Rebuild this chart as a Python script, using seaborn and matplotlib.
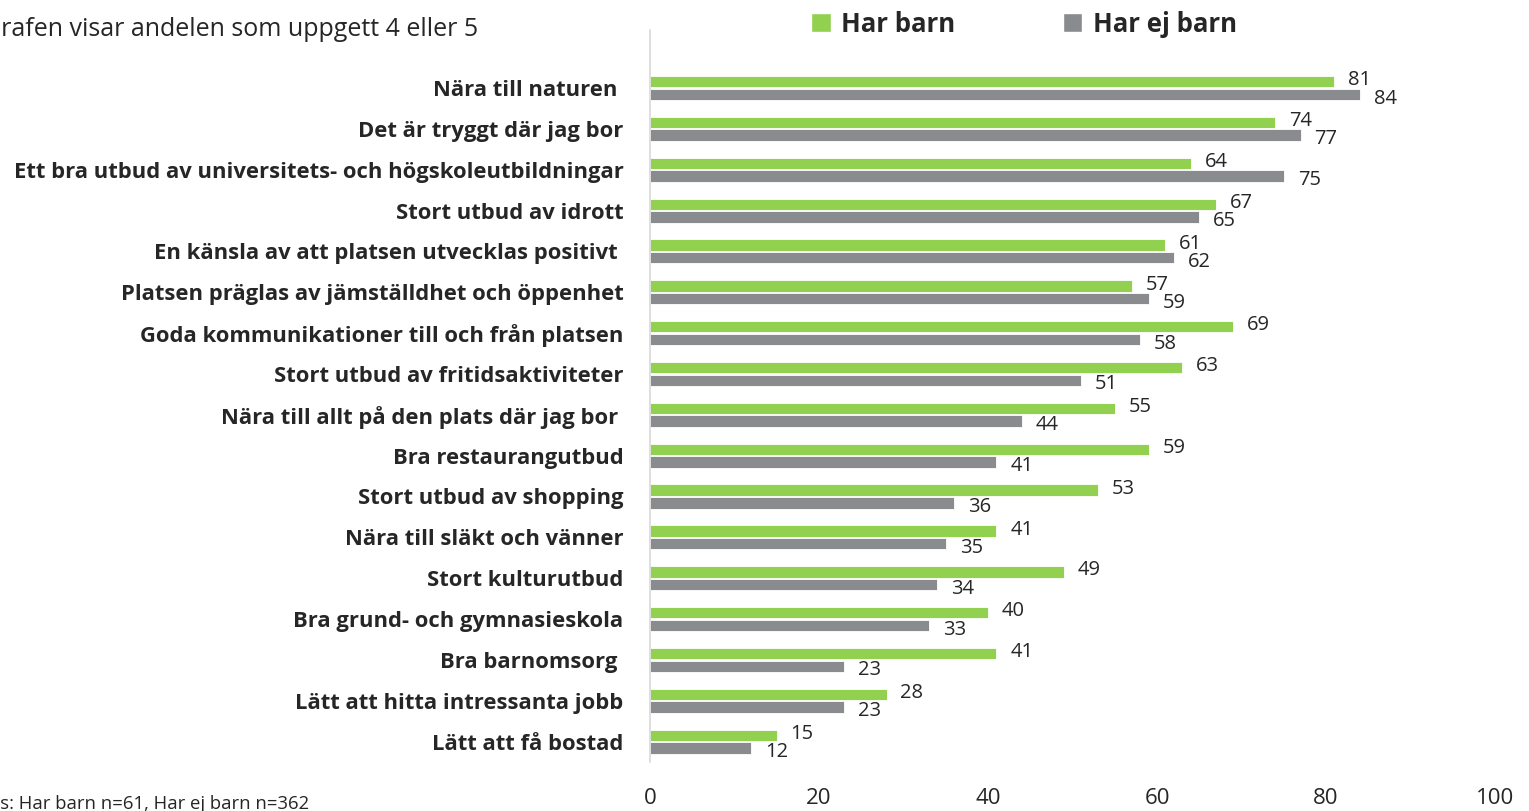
import matplotlib
matplotlib.use("Agg")
import matplotlib.pyplot as plt
import seaborn as sns
import pandas as pd
from matplotlib.patches import Patch

# Data
kategorier = [
    "Nära till naturen ",
    "Det är tryggt där jag bor",
    "Ett bra utbud av universitets- och högskoleutbildningar",
    "Stort utbud av idrott",
    "En känsla av att platsen utvecklas positivt ",
    "Platsen präglas av jämställdhet och öppenhet",
    "Goda kommunikationer till och från platsen",
    "Stort utbud av fritidsaktiviteter",
    "Nära till allt på den plats där jag bor ",
    "Bra restaurangutbud",
    "Stort utbud av shopping",
    "Nära till släkt och vänner",
    "Stort kulturutbud",
    "Bra grund- och gymnasieskola",
    "Bra barnomsorg ",
    "Lätt att hitta intressanta jobb",
    "Lätt att få bostad",
]
har_barn = [81, 74, 64, 67, 61, 57, 69, 63, 55, 59, 53, 41, 49, 40, 41, 28, 15]
har_ej_barn = [84, 77, 75, 65, 62, 59, 58, 51, 44, 41, 36, 35, 34, 33, 23, 23, 12]
grupper = ["Har barn", "Har ej barn"]
x_ticks = [0, 20, 40, 60, 80, 100]

farger = {"Har barn": "#92D050", "Har ej barn": "#898B8E"}
textfarg = "#262626"

dados = pd.DataFrame({
    "kategori": kategorier * 2,
    "grupp": [grupper[0]] * len(kategorier) + [grupper[1]] * len(kategorier),
    "andel": har_barn + har_ej_barn,
})

sns.set_style("white")
plt.rcParams["font.family"] = ["Open Sans", "DejaVu Sans"]

fig = plt.figure(figsize=(15.29, 8.11), dpi=100)
W, H = 1529, 811
ax = fig.add_axes([650 / W, 1 - 762 / H, (1495 - 650) / W, (762 - 30) / H])

sns.barplot(data=dados, y="kategori", x="andel", hue="grupp", palette=farger,
            orient="h", width=0.62, gap=0.1, legend=False, ax=ax,
            saturation=1, edgecolor="white", linewidth=0.6)

ax.set_xlim(0, 100)
ax.set_ylim(len(kategorier) - 0.5, -1.42)
ax.set_xticks(x_ticks)
ax.set_xticklabels([str(t) for t in x_ticks], fontsize=16, color=textfarg)
ax.set_yticks(range(len(kategorier)))
ax.set_yticklabels(kategorier, fontsize=15.8, fontweight="bold", color=textfarg)
ax.tick_params(axis="x", length=0, pad=19)
ax.tick_params(axis="y", length=0, pad=19)
ax.set_xlabel("")
ax.set_ylabel("")
for s in ["top", "right", "bottom"]:
    ax.spines[s].set_visible(False)
ax.spines["left"].set_color("#D9D9D9")
ax.spines["left"].set_linewidth(1.2)

# Datavärden
for i in range(len(kategorier)):
    ax.annotate(str(har_barn[i]), (har_barn[i], i - 0.155), xytext=(10, 1),
                textcoords="offset points", ha="left", va="center",
                fontsize=14.5, color=textfarg)
    ax.annotate(str(har_ej_barn[i]), (har_ej_barn[i], i + 0.155), xytext=(10, -3),
                textcoords="offset points", ha="left", va="center",
                fontsize=14.5, color=textfarg)

handles = [Patch(facecolor=farger[g], label=g) for g in grupper]
fig.legend(handles=handles, loc="center", bbox_to_anchor=(1024 / W, 1 - 24 / H),
           ncol=2, frameon=False, handlelength=0.75, handleheight=0.75,
           handletextpad=0.4, columnspacing=4.2,
           prop={"weight": "bold", "size": 18.5})

fig.text(-17 / W, 1 - 30 / H, "Grafen visar andelen som uppgett 4 eller 5",
         fontsize=18, color=textfarg, va="center", ha="left")
fig.text(-22 / W, 1 - 804 / H, "Bas: Har barn n=61, Har ej barn n=362",
         fontsize=13.3, color=textfarg, va="center", ha="left")

fig.savefig("out.png", dpi=100)
